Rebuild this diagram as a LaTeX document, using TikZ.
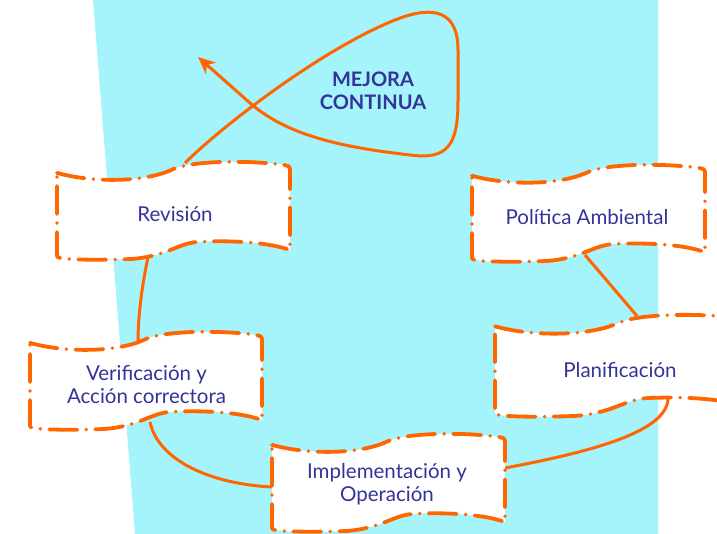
\documentclass[tikz,border=0pt]{standalone}
\usepackage{fontspec}
\setmainfont{Lato}
\usetikzlibrary{arrows.meta,calc}
\definecolor{cyanbg}{RGB}{166,244,251}
\definecolor{orng}{RGB}{255,102,0}
\definecolor{txtblue}{RGB}{51,51,153}
\tikzset{
  flagline/.style={draw=orng, fill=white, line width=3.8pt, line cap=round, line join=round,
    dash pattern=on 28pt off 9pt on 0pt off 9pt},
  flagtext/.style={text=txtblue, font=\fontsize{20.5}{23}\selectfont, align=center, inner sep=0pt},
  link/.style={draw=orng, line width=3pt},
  looptext/.style={text=txtblue, font=\fontsize{20}{23}\selectfont\bfseries, align=center, inner sep=0pt},
}
\newcommand\flagshape[4]{%
  \begin{scope}[shift={({#1-#3/2},{#2-#4/2})}, x=#3pt, y=-#4pt]
    \path[flagline] (0,0.12) .. controls (0.15,0.22) and (0.38,0.22) .. (0.5,0.08)
      .. controls (0.58,0.0) and (0.8,-0.01) .. (0.96,0.035)
      .. controls (1,0.05) .. (1,0.11) -- (1,0.9)
      .. controls (0.92,0.83) and (0.78,0.8) .. (0.62,0.815)
      .. controls (0.52,0.82) and (0.48,0.96) .. (0.32,0.99)
      .. controls (0.2,1.0) and (0.08,1.0) .. (0.03,0.985)
      .. controls (0,0.975) .. (0,0.94) -- cycle;
  \end{scope}}
\begin{document}
\begin{tikzpicture}[x=1pt, y=-1pt]
\useasboundingbox (0,0) rectangle (717,534);
\clip (0,0) rectangle (717,534);
\fill[white] (0,0) rectangle (717,534);
\fill[cyanbg] (93,0) -- (658,0) -- (658,534) -- (135,534) -- cycle;

% invisible nodes for the banners (centres and sizes)
\node[minimum width=233pt, minimum height=99pt, inner sep=0pt] (rev) at (173.5,210.5) {};
\node[minimum width=233pt, minimum height=98pt, inner sep=0pt] (pol) at (588.5,213) {};
\node[minimum width=232pt, minimum height=99pt, inner sep=0pt] (ver) at (146,380.5) {};
\node[minimum width=233pt, minimum height=99pt, inner sep=0pt] (imp) at (388.5,482.5) {};
\node[minimum width=250pt, minimum height=103pt, inner sep=0pt] (plan) at (620,365.5) {};
\coordinate (tip) at (198,57);

% connectors
\draw[link] ([shift={(-25.5,47)}]rev.center) .. controls (141,290) and (138,320) .. ([shift={(-8,-39)}]ver.center);
\draw[link] ([shift={(4,41.5)}]ver.center) .. controls (158,460) and (210,484) .. ([shift={(-116.5,4.5)}]imp.center);
\draw[link] ([shift={(116.5,-14.5)}]imp.center) .. controls (590,452) and (668,432) .. ([shift={(48,32.5)}]plan.center);
\draw[link] ([shift={(-3.5,42)}]pol.center) -- ([shift={(17,-49.5)}]plan.center);

% mejora continua loop
\draw[link, -{Stealth[length=17pt, width=15pt, inset=5pt]}]
  ([shift={(11.5,-47.5)}]rev.center) .. controls (220,128) and (320,50) .. (395,20)
  .. controls (435,4) and (458,12) .. (458,50)
  -- (458,100)
  .. controls (458,145) and (448,160) .. (410,155)
  .. controls (350,148) and (290,138) .. (250,103) -- (tip);
\node[looptext] (mej) at (373,91) {MEJORA\\CONTINUA};

% banners
\flagshape{173.5}{210.5}{233}{99}
\flagshape{588.5}{213}{233}{98}
\flagshape{146}{380.5}{232}{99}
\flagshape{388.5}{482.5}{233}{99}
\flagshape{620}{365.5}{250}{103}

\node[flagtext] (trev) at (175,214) {Revisión};
\node[flagtext] (tpol) at (587,217) {Política Ambiental};
\node[flagtext] (tver) at (146.5,385) {Verificación y\\Acción correctora};
\node[flagtext] (timp) at (387,484) {Implementación y\\Operación};
\node[flagtext] (tplan) at (620,370) {Planificación};
\end{tikzpicture}
\end{document}
